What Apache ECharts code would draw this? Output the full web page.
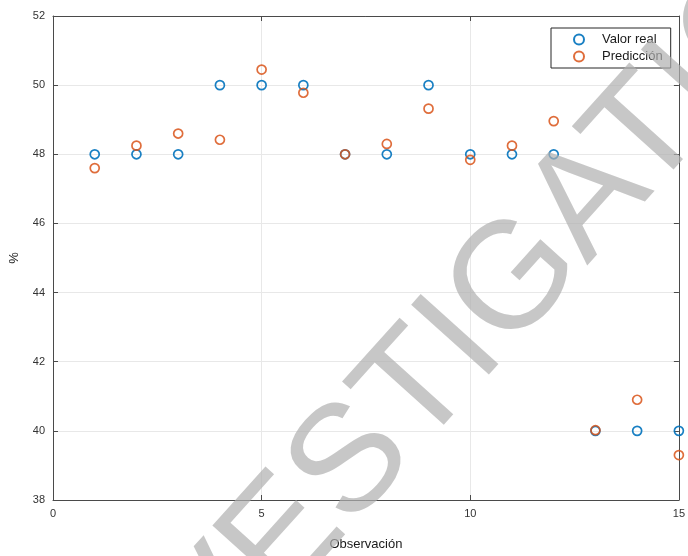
<!DOCTYPE html>
<html>
<head>
<meta charset="utf-8">
<script src="https://cdn.jsdelivr.net/npm/echarts@6/dist/echarts.min.js"></script>
<style>
html,body{margin:0;padding:0;background:#fff;}
#chart{width:688px;height:556px;}
</style>
</head>
<body>
<div id="chart"></div>
<script>
const observations = [1,2,3,4,5,6,7,8,9,10,11,12,13,14,15];
const valorReal = [48,48,48,50,50,50,48,48,50,48,48,48,40,40,40];
const prediccion = [47.6,48.25,48.6,48.42,50.45,49.78,48.0,48.3,49.32,47.84,48.25,48.96,40.02,40.9,39.3];
const xTicks = [0,5,10,15];
const yTicks = [38,40,42,44,46,48,50,52];
const seriesNames = ['Valor real','Predicción'];
const watermarkText = 'INVESTIGATION';

const blue = '#0072BD', orange = '#D95319';
const axisCol = '#4a4a4a';
const fontFam = 'Liberation Sans, Arial, sans-serif';

const chart = echarts.init(document.getElementById('chart'), null, {renderer:'canvas'});
const pairs = (ys) => observations.map((x,i)=>[x, ys[i]]);

chart.setOption({
  animation:false,
  backgroundColor:'#fff',
  grid:{left:53,right:3,top:16,bottom:42,containLabel:false},
  legend:{
    left:551, top:28, orient:'vertical',
    data:seriesNames,
    itemWidth:10, itemHeight:10, itemGap:4,
    padding:[5,8,5,22],
    borderColor:'#262626', borderWidth:1, backgroundColor:'#fff',
    textStyle:{fontSize:13, color:'#1a1a1a', fontFamily:fontFam, padding:[0,0,0,13]},
    z:20
  },
  xAxis:[{
    type:'value', min:xTicks[0], max:xTicks[xTicks.length-1], interval:5,
    name:'Observación', nameLocation:'middle', nameGap:38,
    nameTextStyle:{fontSize:13, color:'#1a1a1a', fontFamily:fontFam},
    axisLine:{show:true, onZero:false, lineStyle:{color:axisCol,width:1}},
    axisTick:{show:true, inside:true, length:5, lineStyle:{color:axisCol}},
    axisLabel:{fontSize:11, color:'#333', margin:8, fontFamily:fontFam},
    splitLine:{show:true, lineStyle:{color:'#e8e8e8', width:1}}
  },{
    type:'value', position:'top', min:0, max:15, interval:5,
    axisLine:{show:true, onZero:false, lineStyle:{color:axisCol,width:1}},
    axisTick:{show:true, inside:true, length:5, lineStyle:{color:axisCol}},
    axisLabel:{show:false}, splitLine:{show:false}
  }],
  yAxis:[{
    type:'value', min:yTicks[0], max:yTicks[yTicks.length-1], interval:2,
    name:'%', nameLocation:'middle', nameGap:32, nameRotate:90,
    nameTextStyle:{fontSize:13, color:'#1a1a1a', fontFamily:fontFam},
    axisLine:{show:true, onZero:false, lineStyle:{color:axisCol,width:1}},
    axisTick:{show:true, inside:true, length:5, lineStyle:{color:axisCol}},
    axisLabel:{fontSize:11, color:'#333', margin:8, fontFamily:fontFam},
    splitLine:{show:true, lineStyle:{color:'#e8e8e8', width:1}}
  },{
    type:'value', position:'right', min:38, max:52, interval:2,
    axisLine:{show:true, onZero:false, lineStyle:{color:axisCol,width:1}},
    axisTick:{show:true, inside:true, length:5, lineStyle:{color:axisCol}},
    axisLabel:{show:false}, splitLine:{show:false}
  }],
  series:[{
    name:seriesNames[0], type:'scatter', data:pairs(valorReal),
    symbol:'circle', symbolSize:9,
    itemStyle:{color:'rgba(255,255,255,0)', borderColor:blue, borderWidth:1.7, opacity:0.9}
  },{
    name:seriesNames[1], type:'scatter', data:pairs(prediccion),
    symbol:'circle', symbolSize:9,
    itemStyle:{color:'rgba(255,255,255,0)', borderColor:orange, borderWidth:1.7, opacity:0.85}
  }],
  graphic:[{
    type:'text', x:470, y:333, rotation:48*Math.PI/180, z:100, silent:true,
    style:{text:watermarkText, fontSize:152, fontFamily:fontFam, fill:'rgba(175,175,175,0.7)',
      align:'center', verticalAlign:'middle'}
  }]
});
</script>
</body>
</html>
